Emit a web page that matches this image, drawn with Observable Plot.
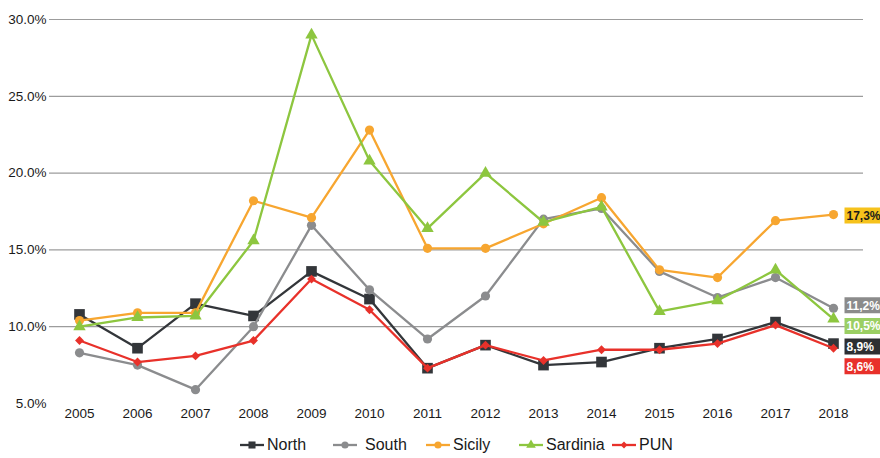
<!DOCTYPE html>
<html>
<head>
<meta charset="utf-8">
<script src="https://cdn.jsdelivr.net/npm/d3@7"></script>
<script src="https://cdn.jsdelivr.net/npm/@observablehq/plot@0.6"></script>
<style>
  html, body { margin: 0; padding: 0; background: #fff; overflow: hidden; }
  body { width: 880px; height: 458px; font-family: "Liberation Sans", Arial, sans-serif; }
  #chart svg { display: block; overflow: visible; }
  #legend { position: absolute; left: 240px; top: 434px; height: 22px; display: flex; align-items: center; white-space: nowrap; }
  .item { width: 93px; display: flex; align-items: center; font-size: 16px; color: #1a1a1a; }
  .item svg { flex: none; }
</style>
</head>
<body>
<div id="chart"></div>
<div id="legend"></div>
<script>
const years = [2005, 2006, 2007, 2008, 2009, 2010, 2011, 2012, 2013, 2014, 2015, 2016, 2017, 2018];
const seriesNames = ["North", "South", "Sicily", "Sardinia", "PUN"];
const north    = [10.8, 8.6, 11.5, 10.7, 13.6, 11.8, 7.3, 8.8, 7.5, 7.7, 8.6, 9.2, 10.3, 8.9];
const south    = [8.3, 7.5, 5.9, 10.0, 16.6, 12.4, 9.2, 12.0, 17.0, 17.7, 13.6, 11.9, 13.2, 11.2];
const sicily   = [10.4, 10.9, 10.9, 18.2, 17.1, 22.8, 15.1, 15.1, 16.7, 18.4, 13.7, 13.2, 16.9, 17.3];
const sardinia = [10.0, 10.6, 10.7, 15.6, 29.0, 20.8, 16.4, 20.0, 16.8, 17.8, 11.0, 11.7, 13.7, 10.5];
const pun      = [9.1, 7.7, 8.1, 9.1, 13.1, 11.1, 7.3, 8.8, 7.8, 8.5, 8.5, 8.9, 10.1, 8.6];
const yTicks = [5, 10, 15, 20, 25, 30];

const valuesByName = {North: north, South: south, Sicily: sicily, Sardinia: sardinia, PUN: pun};
const style = {
  North:    {color: "#33363a", symbol: "square",   r: 6.0, box: "#2d2f32", text: "#ffffff", dy: 3},
  South:    {color: "#8b8c8e", symbol: "circle",   r: 4.6, box: "#8b8b8b", text: "#ffffff", dy: -3},
  Sicily:   {color: "#f7a630", symbol: "circle",   r: 4.6, box: "#f6c21c", text: "#1a1a1a", dy: 1},
  Sardinia: {color: "#8dc63f", symbol: "triangle", r: 4.6, box: "#9bcf63", text: "#ffffff", dy: 7},
  PUN:      {color: "#e8312a", symbol: "diamond2", r: 4.0, box: "#e8302a", text: "#ffffff", dy: 18}
};

const data = seriesNames.flatMap(name => years.map((year, i) => ({name, year, value: valuesByName[name][i]})));
const last = seriesNames.map(name => ({name, year: years[years.length - 1], value: valuesByName[name][years.length - 1]}));

const boxSymbol = {draw(context) { context.rect(0, -8, 44, 16); }};

const marks = [
  Plot.gridY(yTicks.filter(t => t > 5), {stroke: "#9c9c9c", strokeOpacity: 1, strokeWidth: 1.2})
];
for (const name of seriesNames) {
  const s = style[name];
  const d = data.filter(r => r.name === name);
  marks.push(Plot.line(d, {x: "year", y: "value", stroke: s.color, strokeWidth: 2.3, curve: "linear"}));
  marks.push(Plot.dot(d, {x: "year", y: "value", fill: s.color, stroke: "none", symbol: () => s.symbol, r: s.r}));
}
for (const item of last) {
  const s = style[item.name];
  marks.push(Plot.dot([item], {x: "year", y: "value", symbol: () => boxSymbol, r: 5, fill: s.box, stroke: "none", dx: 11, dy: s.dy}));
  marks.push(Plot.text([item], {x: "year", y: "value", text: d => d.value.toFixed(1).replace(".", ",") + "%",
    dx: 13, dy: s.dy + 0.5, textAnchor: "start", fill: s.text, fontWeight: "bold", fontSize: 12, letterSpacing: "-0.2px"}));
}

const chart = Plot.plot({
  width: 880,
  height: 428,
  marginLeft: 49,
  marginRight: 17,
  marginTop: 19,
  marginBottom: 25,
  style: {fontFamily: "'Liberation Sans', Arial, sans-serif", fontSize: "13.5px", color: "#1a1a1a", background: "white"},
  x: {type: "point", domain: years, padding: 0.5, align: 0.5, label: null, tickSize: 0, tickPadding: 5, tickFormat: d => String(d)},
  y: {domain: [5, 30], ticks: yTicks, tickFormat: d => d.toFixed(1) + "%", label: null, tickSize: 0, tickPadding: 3},
  symbol: {type: "identity"},
  marks
});
document.getElementById("chart").appendChild(chart);

// Legend
const legend = d3.select("#legend");
for (const name of seriesNames) {
  const s = style[name];
  const item = legend.append("div").attr("class", "item");
  const svg = item.append("svg").attr("width", 26).attr("height", 14);
  svg.append("line").attr("x1", 0).attr("x2", 24).attr("y1", 7).attr("y2", 7).attr("stroke", s.color).attr("stroke-width", 2.3);
  const sym = {square: d3.symbolSquare, circle: d3.symbolCircle, triangle: d3.symbolTriangle, diamond2: d3.symbolDiamond2}[s.symbol];
  const size = s.symbol === "square" ? 50 : s.symbol === "diamond2" ? 30 : 40;
  svg.append("path").attr("d", d3.symbol(sym, size)()).attr("transform", "translate(12,7)").attr("fill", s.color);
  item.append("span").text(name).style("margin-left", name === "South" ? "6px" : "1px");
}
</script>
</body>
</html>
